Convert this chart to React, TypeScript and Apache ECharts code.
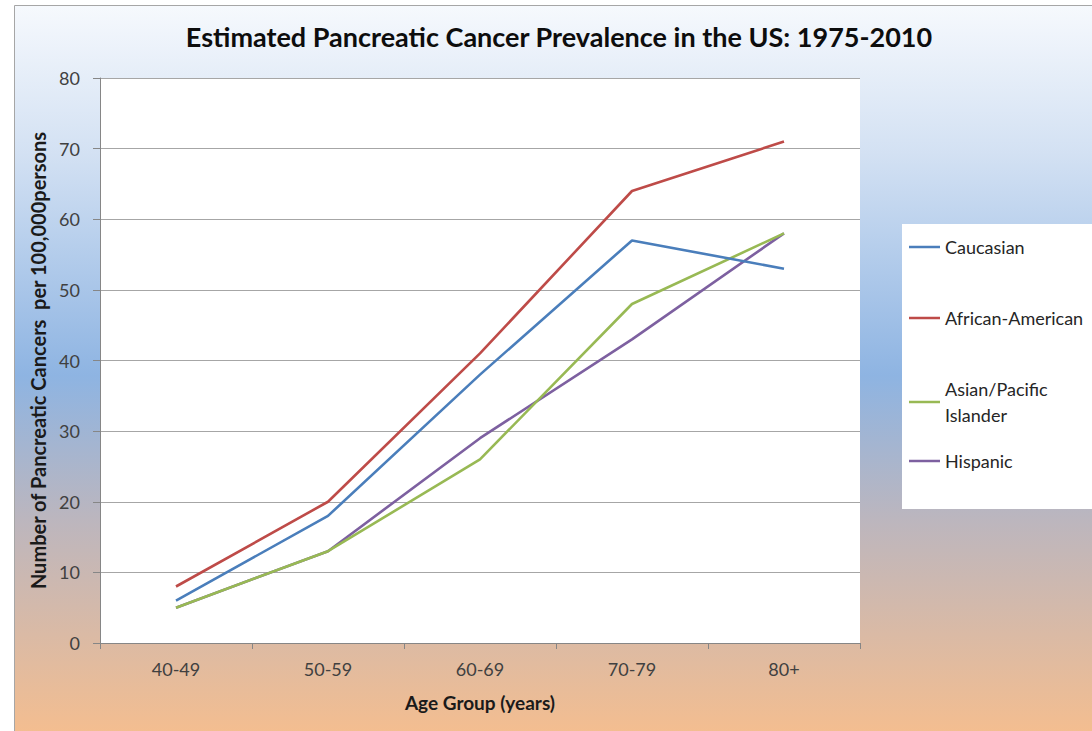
import React, { useEffect, useRef } from "react";
import * as echarts from "echarts";

const categories = ["40-49", "50-59", "60-69", "70-79", "80+"];
const caucasian = [6, 18, 38, 57, 53];
const africanAmerican = [8, 20, 41, 64, 71];
const asianPacific = [5, 13, 26, 48, 58];
const hispanic = [5, 13, 29, 43, 58];
const seriesNames = ["Caucasian", "African-American", "Asian/Pacific Islander", "Hispanic"];
const seriesColors = ["#4a7ebb", "#be4b48", "#98b954", "#7d60a0"];
const yTicks = { min: 0, max: 80, interval: 10 };

const FONT = "Lato";

export default function App() {
  const ref = useRef<HTMLDivElement>(null);
  useEffect(() => {
    if (!ref.current) return;
    const chart = echarts.init(ref.current, null, { renderer: "svg" });
    const values = [caucasian, africanAmerican, asianPacific, hispanic];
    const legendTops = [229, 300, 358, 443];
    const option: any = {
      animation: false,
      textStyle: { fontFamily: FONT },
      title: {
        text: "Estimated Pancreatic Cancer Prevalence in the US: 1975-2010",
        left: 554,
        textAlign: "center",
        top: 18,
        textStyle: { fontFamily: FONT, fontSize: 27, fontWeight: "bold", color: "#0d0d0d" },
      },
      graphic: [
        {
          type: "rect",
          z: -10,
          silent: true,
          shape: { x: 14.5, y: 5.5, width: 1100, height: 740 },
          style: {
            fill: new echarts.graphic.LinearGradient(0, 0, 0, 1, [
              { offset: 0, color: "#f6f9fd" },
              { offset: 0.2, color: "#d3e1f3" },
              { offset: 0.5, color: "#8eb4e2" },
              { offset: 0.7, color: "#bdb6bd" },
              { offset: 1, color: "#f7be8d" },
            ]),
            stroke: "#a6a6a6",
            lineWidth: 1,
          },
        },
        {
          type: "rect",
          z: 1,
          silent: true,
          shape: { x: 902, y: 224, width: 200, height: 285 },
          style: { fill: "#ffffff" },
        },
      ],
      legend: seriesNames.map((n, i) => ({
        data: [n],
        orient: "vertical",
        left: 904,
        top: legendTops[i],
        icon: "rect",
        itemWidth: 31,
        itemHeight: 2.5,
        itemGap: 4,
        selectedMode: false,
        formatter: (name: string) => (name === "Asian/Pacific Islander" ? "Asian/Pacific\nIslander" : name),
        textStyle: {
          fontFamily: FONT,
          fontSize: 18,
          color: "#262626",
          lineHeight: 26,
          padding: i === 2 ? [26, 0, 0, 0] : 0,
        },
      })),
      grid: {
        left: 100,
        top: 78,
        width: 760,
        height: 565,
        show: true,
        backgroundColor: "#ffffff",
        borderWidth: 0,
      },
      xAxis: {
        type: "category",
        data: categories,
        boundaryGap: true,
        name: "Age Group (years)",
        nameLocation: "middle",
        nameGap: 50,
        nameTextStyle: { fontFamily: FONT, fontSize: 19, fontWeight: "bold", color: "#1a1a1a" },
        axisLine: { lineStyle: { color: "#868686", width: 1 } },
        axisTick: { show: true, length: 6, lineStyle: { color: "#868686" } },
        axisLabel: { margin: 17, fontFamily: FONT, fontSize: 18, color: "#404040" },
      },
      yAxis: {
        type: "value",
        min: yTicks.min,
        max: yTicks.max,
        interval: yTicks.interval,
        name: "Number of Pancreatic Cancers  per 100,000persons",
        nameLocation: "middle",
        nameGap: 47,
        nameTextStyle: { fontFamily: FONT, fontSize: 20, fontWeight: "bold", color: "#1a1a1a" },
        axisLine: { show: true, lineStyle: { color: "#868686", width: 1 } },
        axisTick: { show: true, length: 7, lineStyle: { color: "#868686" } },
        axisLabel: { margin: 20, fontFamily: FONT, fontSize: 18, color: "#404040" },
        splitLine: { lineStyle: { color: "#a6a6a6", width: 1.2 } },
      },
      series: seriesNames.map((n, i) => ({
        name: n,
        type: "line",
        data: values[i],
        symbol: "none",
        lineStyle: { color: seriesColors[i], width: 2.6 },
        itemStyle: { color: seriesColors[i] },
        z: 3 + (3 - i),
      })),
    };
    chart.setOption(option);
    return () => chart.dispose();
  }, []);
  return (
    <div
      ref={ref}
      style={{ position: "absolute", left: 0, top: 0, width: 1092, height: 731, background: "#ffffff" }}
    />
  );
}
